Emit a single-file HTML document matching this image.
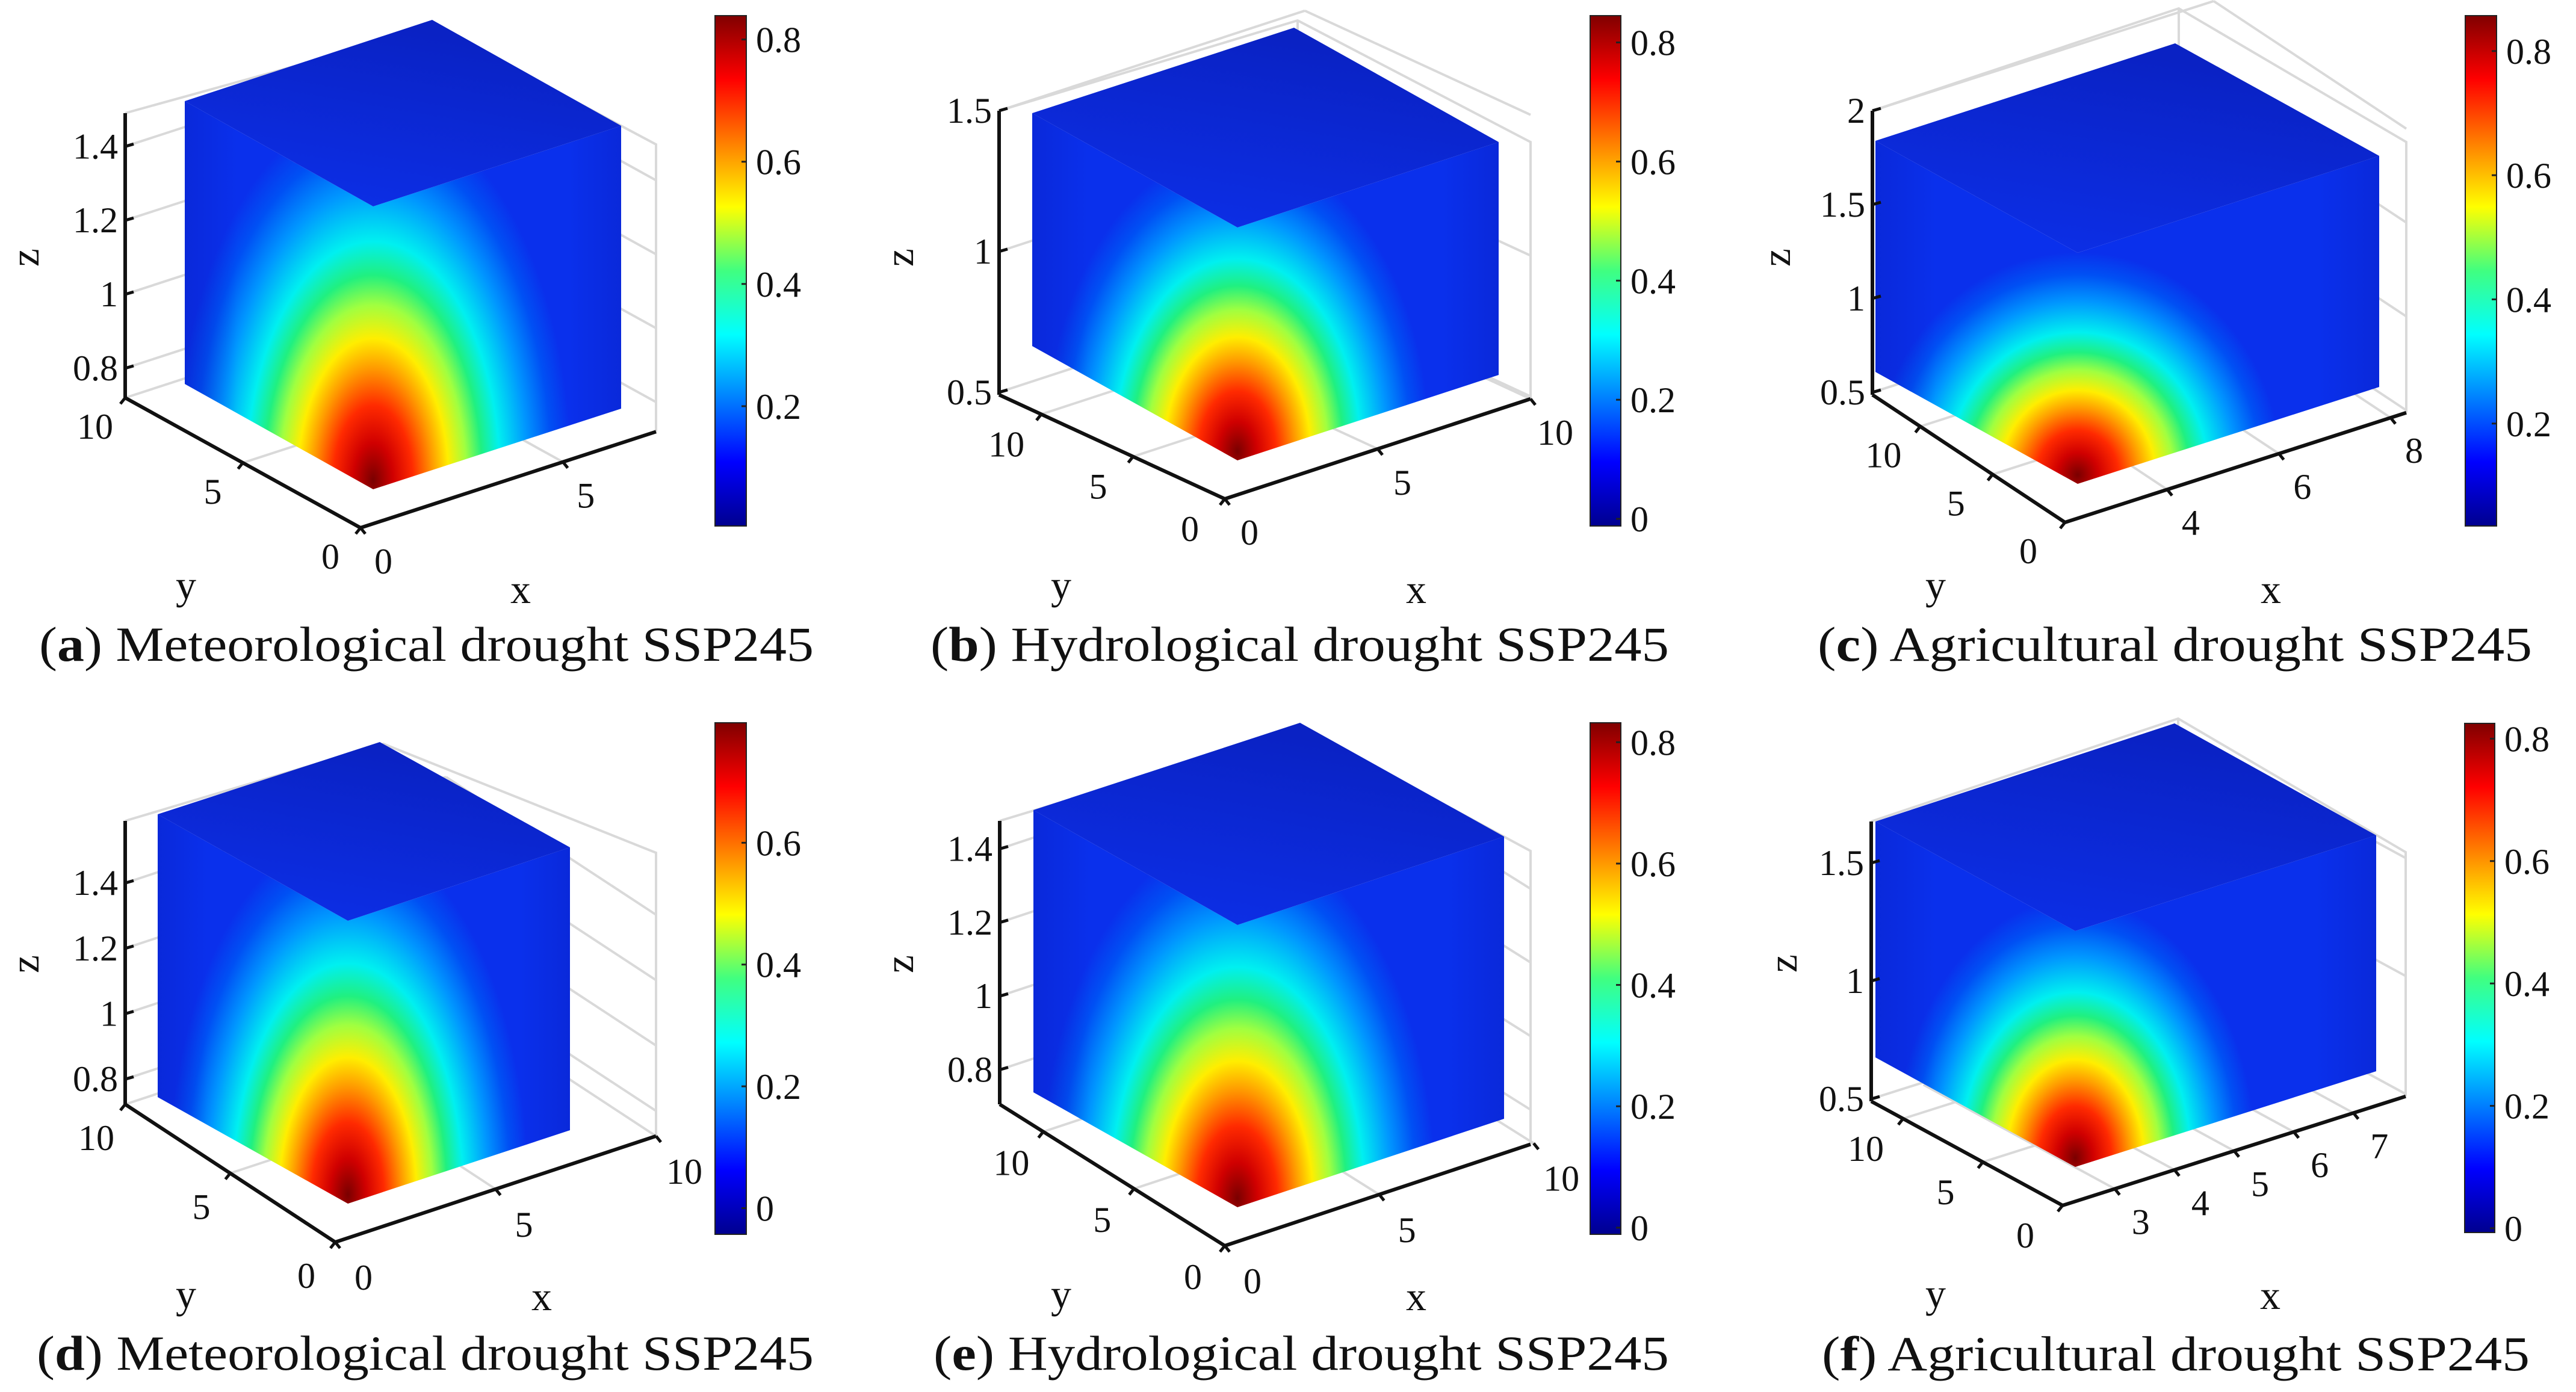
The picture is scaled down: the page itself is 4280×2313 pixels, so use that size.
<!DOCTYPE html>
<html><head><meta charset="utf-8">
<style>
html,body{margin:0;padding:0;background:#fff;}
svg{display:block;}
text{font-family:"Liberation Serif",serif;fill:#111;}
</style></head>
<body>
<svg id="fig" xmlns="http://www.w3.org/2000/svg" width="4280" height="2313" viewBox="0 0 4280 2313">
<defs>
<linearGradient id="jet" x1="0" y1="1" x2="0" y2="0">
<stop offset="0" stop-color="#00008f"/><stop offset="0.125" stop-color="#0000ff"/>
<stop offset="0.375" stop-color="#00ffff"/><stop offset="0.5" stop-color="#40ff80"/>
<stop offset="0.625" stop-color="#ffff00"/><stop offset="0.875" stop-color="#ff0000"/>
<stop offset="1" stop-color="#800000"/>
</linearGradient>
</defs>
</svg>
<script>
// tick data per panel
const zTicksA=[0.8,1,1.2,1.4], yTicksA=[0,5,10], xTicksA=[0,5], cbTicksA=[0.2,0.4,0.6,0.8];
const zTicksB=[0.5,1,1.5], yTicksB=[0,5,10], xTicksB=[0,5,10], cbTicksB=[0,0.2,0.4,0.6,0.8];
const zTicksC=[0.5,1,1.5,2], yTicksC=[0,5,10], xTicksC=[4,6,8], cbTicksC=[0.2,0.4,0.6,0.8];
const zTicksD=[0.8,1,1.2,1.4], yTicksD=[0,5,10], xTicksD=[0,5,10], cbTicksD=[0,0.2,0.4,0.6];
const zTicksE=[0.8,1,1.2,1.4], yTicksE=[0,5,10], xTicksE=[0,5,10], cbTicksE=[0,0.2,0.4,0.6,0.8];
const zTicksF=[0.5,1,1.5], yTicksF=[0,5,10], xTicksF=[3,4,5,6,7], cbTicksF=[0,0.2,0.4,0.6,0.8];
const zRanges=[[0.72,1.49],[0.491,1.5],[0.487,2.0],[0.723,1.59],[0.706,1.476],[0.49,1.676]];
const yRanges=[[0,10],[0,12.3],[0,13.3],[0,10],[0,12.4],[0,12]];
const xRanges=[[0,7.3],[0,10],[2.17,8.28],[0,10],[0,9.9],[2.125,7.875]];
const cbRanges=[[0.004,0.839],[-0.012,0.845],[0.035,0.857],[-0.043,0.797],[-0.011,0.832],[-0.007,0.825]];
const captions=[['a','Meteorological drought SSP245'],['b','Hydrological drought SSP245'],['c','Agricultural drought SSP245'],['d','Meteorological drought SSP245'],['e','Hydrological drought SSP245'],['f','Agricultural drought SSP245']];
const allTicks=[[zTicksA,yTicksA,xTicksA,cbTicksA],[zTicksB,yTicksB,xTicksB,cbTicksB],[zTicksC,yTicksC,xTicksC,cbTicksC],[zTicksD,yTicksD,xTicksD,cbTicksD],[zTicksE,yTicksE,xTicksE,cbTicksE],[zTicksF,yTicksF,xTicksF,cbTicksF]];

const G=[
{LT:[307,168],TOP:[718,33],RT:[1032,209],LB:[307,638],BV:[620,813],zx:208,zy0:661,zy1:188,yo:[-50,48],xo:[38,56],bx:1090,bt:240,cb:[1188,1240,874,26],zl:[42,428],yl:[309,973],xl:[865,980],cap:[65,1352,1098],hot:[330,620]},
{LT:[1715,188],TOP:[2150,46],RT:[2490,236],LB:[1715,575],BV:[2056,765],zx:1660,zy0:656,zy1:184,yo:[-58,50],xo:[41,56],bx:2543,bt:236,cb:[2642,2693,874,26],zl:[1495,428],yl:[1763,973],xl:[2353,980],cap:[1546,2773,1098],hot:[320,500]},
{LT:[3116,234],TOP:[3614,72],RT:[3953,259],LB:[3116,618],BV:[3452,804],zx:3111,zy0:656,zy1:184,yo:[-61,48],xo:[39,55],bx:3998,bt:236,cb:[4096,4148,874,26],zl:[2952,428],yl:[3216,973],xl:[3773,980],cap:[3020,4207,1098],hot:[340,370]},
{LT:[262,1353],TOP:[631,1233],RT:[947,1408],LB:[262,1823],BV:[578,2000],zx:208,zy0:1835,zy1:1364,yo:[-48,56],xo:[47,59],bx:1090,bt:1417,cb:[1188,1240,2051,1201],zl:[42,1602],yl:[309,2151],xl:[900,2155],cap:[61,1352,2276],hot:[300,600]},
{LT:[1717,1346],TOP:[2160,1201],RT:[2499,1390],LB:[1717,1815],BV:[2056,2006],zx:1661,zy0:1835,zy1:1364,yo:[-53,52],xo:[46,59],bx:2543,bt:1414,cb:[2642,2693,2051,1201],zl:[1495,1602],yl:[1763,2151],xl:[2353,2155],cap:[1551,2773,2276],hot:[330,600]},
{LT:[3116,1365],TOP:[3613,1202],RT:[3948,1388],LB:[3116,1757],BV:[3448,1939],zx:3109,zy0:1830,zy1:1365,yo:[-62,50],xo:[43,55],bx:3997,bt:1416,cb:[4095,4145,2048,1202],zl:[2963,1601],yl:[3216,2150],xl:[3772,2153],cap:[3027,4203,2277],hot:[300,430]}
];
const NS='http://www.w3.org/2000/svg';
const svg=document.getElementById('fig');
const defs=svg.querySelector('defs');
function mk(tag,attrs,parent){const e=document.createElementNS(NS,tag);for(const k in attrs)e.setAttribute(k,attrs[k]);(parent||svg).appendChild(e);return e;}
function lerp(a,b,t){return [a[0]+(b[0]-a[0])*t,a[1]+(b[1]-a[1])*t];}
function pts(arr){return arr.map(p=>p[0]+','+p[1]).join(' ');}
const hotStops=[[0,'#7a0000'],[0.1,'#d00000'],[0.2,'#ff2a00'],[0.3,'#ff9a00'],[0.38,'#ffee00'],[0.47,'#a0ff40'],[0.55,'#20f080'],[0.64,'#00f0f0'],[0.78,'#0096ff'],[0.9,'#0050f4'],[1,'#0a30ec']];

G.forEach((g,i)=>{
  const T=allTicks[i];
  const grp=mk('g',{});
  
  
  const corner=[g.BV[0]-21,g.BV[1]+64];
  const zTop=[g.zx,g.zy1], zBot=[g.zx,g.zy0];
  const rbY=g.RT[1]+(g.LB[1]-g.LT[1]);
  const sx=(rbY-g.BV[1])/(g.RT[0]-g.BV[0]);
  const xP1=[g.bx,corner[1]+sx*(g.bx-corner[0])];
  const zScale=v=>g.zy0+(v-zRanges[i][0])/(zRanges[i][1]-zRanges[i][0])*(g.zy1-g.zy0);
  const yAxis=v=>lerp(corner,zBot,(v-yRanges[i][0])/(yRanges[i][1]-yRanges[i][0]));
  const xAxis=v=>lerp(corner,xP1,(v-xRanges[i][0])/(xRanges[i][1]-xRanges[i][0]));
  const xv=[xP1[0]-corner[0],xP1[1]-corner[1]], yv=[zBot[0]-corner[0],zBot[1]-corner[1]];
  // grid lines
  const gridG=mk('g',{stroke:'#d9d9d9','stroke-width':4,fill:'none'},grp);
  
  
  T[0].forEach(v=>{const y=zScale(v);
    const l=mk('line',{x1:g.zx,y1:y,x2:g.zx+xv[0],y2:y+xv[1]},gridG);
    
    const yy=xP1[1]+(y-g.zy0);
    const l2=mk('line',{x1:xP1[0],y1:yy,x2:xP1[0]+yv[0],y2:yy+yv[1]},gridG);
    
  });
  T[2].forEach(v=>{const p=xAxis(v);const l=mk('line',{x1:p[0],y1:p[1],x2:p[0]+yv[0],y2:p[1]+yv[1]},gridG);
    });
  T[1].forEach(v=>{const p=yAxis(v);const l=mk('line',{x1:p[0],y1:p[1],x2:p[0]+xv[0],y2:p[1]+xv[1]},gridG);
    });
  const backTop=[g.TOP[0]+6,g.TOP[1]-(g.LT[1]-g.zy1)-8];
  const bl=mk('polyline',{points:pts([zTop,backTop,[g.bx,g.bt],xP1])},gridG);
  
  const bv=mk('line',{x1:backTop[0],y1:backTop[1],x2:backTop[0],y2:backTop[1]+300},gridG);
  
  // gradients for cube
  const gid='hot'+i;
  const rg=mk('radialGradient',{id:gid,gradientUnits:'userSpaceOnUse',cx:g.BV[0],cy:g.BV[1]-15,r:g.hot[0],
    gradientTransform:`translate(${g.BV[0]},${g.BV[1]-15}) scale(1,${g.hot[1]/g.hot[0]}) translate(${-g.BV[0]},${-(g.BV[1]-15)})`},defs);
  hotStops.forEach(s=>mk('stop',{offset:s[0],'stop-color':s[1]},rg));
  const tg=mk('linearGradient',{id:'top'+i,x1:'0',y1:'1',x2:'0.4',y2:'0'},defs);
  mk('stop',{offset:0,'stop-color':'#0d30ea'},tg);mk('stop',{offset:1,'stop-color':'#0a22c4'},tg);
  const FT=[g.BV[0],g.BV[1]-(g.LB[1]-g.LT[1])];
  const RB=[g.RT[0],rbY];
  const cube=mk('g',{},grp);
  
  const lf=mk('polygon',{points:pts([g.LT,FT,g.BV,g.LB]),fill:`url(#${gid})`},cube);
  
  const rf=mk('polygon',{points:pts([FT,g.RT,RB,g.BV]),fill:`url(#${gid})`},cube);
  
  const tf=mk('polygon',{points:pts([g.LT,g.TOP,g.RT,FT]),fill:`url(#top${i})`},cube);
  
  const eg=mk('linearGradient',{id:'edge'+i,gradientUnits:'userSpaceOnUse',x1:g.LT[0],y1:0,x2:g.RT[0],y2:0},defs);
  [[0,'#0818b0',0.3],[0.12,'#0818b0',0],[0.88,'#0818b0',0],[1,'#0818b0',0.3]].forEach(s=>mk('stop',{offset:s[0],'stop-color':s[1],'stop-opacity':s[2]},eg));
  const ov=mk('polygon',{points:pts([g.LT,FT,g.RT,RB,g.BV,g.LB]),fill:`url(#edge${i})`},cube);
  
  // axes
  const ax=mk('g',{stroke:'#111','stroke-width':6,fill:'none'},grp);
  
  const zl=mk('line',{x1:g.zx,y1:g.zy1,x2:g.zx,y2:g.zy0},ax);
  
  const yl=mk('line',{x1:zBot[0],y1:zBot[1],x2:corner[0],y2:corner[1]},ax);
  
  const xl=mk('line',{x1:corner[0],y1:corner[1],x2:xP1[0],y2:xP1[1]},ax);
  
  const tl=mk('g',{'font-size':60,'text-anchor':'middle'},grp);
  
  T[0].forEach(v=>{const y=zScale(v);
    const tk=mk('line',{x1:g.zx,y1:y,x2:g.zx+14,y2:y-4,stroke:'#111','stroke-width':5},ax);
    
    const t=mk('text',{x:g.zx-12,y:y+20,'text-anchor':'end'},tl);t.textContent=String(v);
    });
  T[1].forEach(v=>{const p=yAxis(v);
    const tk=mk('line',{x1:p[0],y1:p[1],x2:p[0]-8,y2:p[1]+10,stroke:'#111','stroke-width':5},ax);
    
    const t=mk('text',{x:p[0]+g.yo[0],y:p[1]+g.yo[1]+20},tl);t.textContent=String(v);
    });
  T[2].forEach(v=>{const p=xAxis(v);
    const tk=mk('line',{x1:p[0],y1:p[1],x2:p[0]+8,y2:p[1]+10,stroke:'#111','stroke-width':5},ax);
    
    const t=mk('text',{x:p[0]+g.xo[0],y:p[1]+g.xo[1]+20},tl);t.textContent=String(v);
    });
  const zt=mk('text',{x:g.zl[0],y:g.zl[1],'font-size':68,'text-anchor':'middle',transform:`rotate(-90 ${g.zl[0]} ${g.zl[1]})`,dy:22},grp);
  zt.textContent='z';
  const yt=mk('text',{x:g.yl[0],y:g.yl[1]+22,'font-size':68,'text-anchor':'middle'},grp);
  yt.textContent='y';
  const xt=mk('text',{x:g.xl[0],y:g.xl[1]+22,'font-size':68,'text-anchor':'middle'},grp);
  xt.textContent='x';
  const [cx0,cx1,cy0,cy1]=g.cb;
  const cbG=mk('g',{},grp);
  
  const cr=mk('rect',{x:cx0,y:cy1,width:cx1-cx0,height:cy0-cy1,fill:'url(#jet)',stroke:'#222','stroke-width':2},cbG);
  
  const cbScale=v=>cy0+(v-cbRanges[i][0])/(cbRanges[i][1]-cbRanges[i][0])*(cy1-cy0);
  T[3].forEach(v=>{const y=cbScale(v);
    const tk=mk('line',{x1:cx1-8,y1:y,x2:cx1,y2:y,stroke:'#222','stroke-width':3},cbG);
    
    const t=mk('text',{x:cx1+16,y:y+21,'font-size':60},cbG);t.textContent=String(v);
    });
  const [c0,c1,cb]=g.cap;
  const ct=mk('text',{x:c0,y:cb,'font-size':82,textLength:c1-c0,lengthAdjust:'spacingAndGlyphs'},grp);
  
  const s1=mk('tspan',{},ct);s1.textContent='(';
  const s2=mk('tspan',{'font-weight':'bold'},ct);s2.textContent=captions[i][0];
  const s3=mk('tspan',{},ct);s3.textContent=') '+captions[i][1];
});
</script>
</body></html>
